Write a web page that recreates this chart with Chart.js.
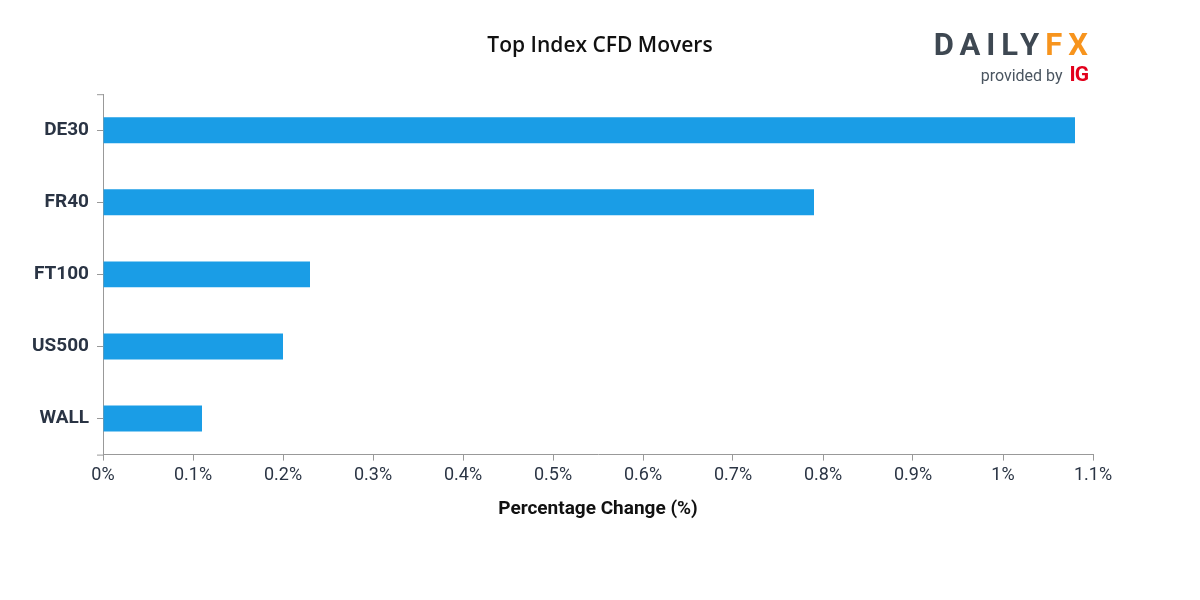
<!DOCTYPE html>
<html>
    <head>
        <script src="https://cdn.jsdelivr.net/npm/chart.js@4.4.1/dist/chart.umd.min.js"></script>
        <style>
            body { margin: 0; background: #fff; }
            #wrap { position: relative; width: 1200px; height: 600px; }
            .logo { position: absolute; left: 900px; top: 27px; width: 188px; text-align: right; font-family: Roboto, sans-serif; }
            .brand { font-size: 31px; font-weight: 700; letter-spacing: 6px; color: #3e4852; line-height: 36px; margin-right: -6px; }
            .brand span { color: #f7941d; }
            .by { font-size: 16px; color: #4a5560; line-height: 22px; }
            .by b { color: #e3001b; font-size: 21px; letter-spacing: -1px; margin-left: 3px; }
        </style>
    </head>
    <body>
        <div id="wrap">
            <canvas id="myChart"></canvas>
            <div class="logo">
                <div class="brand">DAILY<span>FX</span></div>
                <div class="by">provided by <b>IG</b></div>
            </div>
        </div>
    </body>

    <script>
        // 차트 데이터
        const labels = ['DE30', 'FR40', 'FT100', 'US500', 'WALL']
        const values = [1.08, 0.79, 0.23, 0.20, 0.11]
        const xTicks = [0, 0.1, 0.2, 0.3, 0.4, 0.5, 0.6, 0.7, 0.8, 0.9, 1, 1.1]

        const textColor = '#2a3444'
        const axisColor = '#999999'

        // 축 끝의 바깥 눈금 그리기
        const outerTicks = {
            id: 'outerTicks',
            afterDraw(chart) {
                const ctx = chart.ctx
                const a = chart.chartArea
                ctx.save()
                ctx.strokeStyle = axisColor
                ctx.lineWidth = 1
                ctx.beginPath()
                ctx.moveTo(a.left - 6, a.top + 0.5)
                ctx.lineTo(a.left, a.top + 0.5)
                ctx.moveTo(a.left - 6, a.bottom + 0.5)
                ctx.lineTo(a.left, a.bottom + 0.5)
                ctx.stroke()
                ctx.restore()
            }
        }

        const data = {
            labels: labels,
            datasets: [{
                data: values,
                backgroundColor: '#1a9de6',
                borderWidth: 0,
                barPercentage: 0.36,
                categoryPercentage: 1
            }]
        }

        const config = {
            type: 'bar',
            data: data,
            options: {
                indexAxis: 'y',
                responsive: true,
                maintainAspectRatio: false,
                animation: false,
                layout: { padding: { left: 0, right: 0, top: 0, bottom: 79 } },
                plugins: {
                    legend: { display: false },
                    tooltip: { enabled: false },
                    title: {
                        display: true,
                        text: 'Top Index CFD Movers',
                        color: '#111',
                        font: { family: 'Open Sans', size: 21, weight: '600' },
                        padding: { top: 33, bottom: 36 }
                    }
                },
                scales: {
                    x: {
                        min: 0,
                        max: 1.1,
                        afterBuildTicks: (scale) => {
                            scale.ticks = xTicks.map(v => ({ value: v }))
                        },
                        ticks: {
                            color: textColor,
                            font: { family: 'Roboto', size: 18 },
                            padding: 4,
                            callback: (v) => (Math.round(v * 10) / 10) + '%'
                        },
                        grid: { drawOnChartArea: false, tickLength: 6, color: axisColor },
                        border: { color: axisColor },
                        title: {
                            display: true,
                            text: 'Percentage Change (%)',
                            color: '#111',
                            font: { family: 'Roboto', size: 19, weight: 'bold' },
                            padding: { top: 8, bottom: 0 }
                        }
                    },
                    y: {
                        afterFit: (scale) => { scale.width = 103 },
                        ticks: {
                            color: textColor,
                            font: { family: 'Roboto', size: 19, weight: 'bold' },
                            padding: 8
                        },
                        grid: { offset: false, drawOnChartArea: false, tickLength: 6, color: axisColor },
                        border: { color: axisColor }
                    },
                    // 오른쪽 여백용 빈 축 (제목을 가운데에 두기 위해)
                    right: {
                        position: 'right',
                        afterFit: (scale) => { scale.width = 107 },
                        ticks: { display: false },
                        grid: { display: false },
                        border: { display: false }
                    }
                }
            },
            plugins: [outerTicks]
        }

        new Chart(document.getElementById('myChart'), config)
    </script>
</html>
